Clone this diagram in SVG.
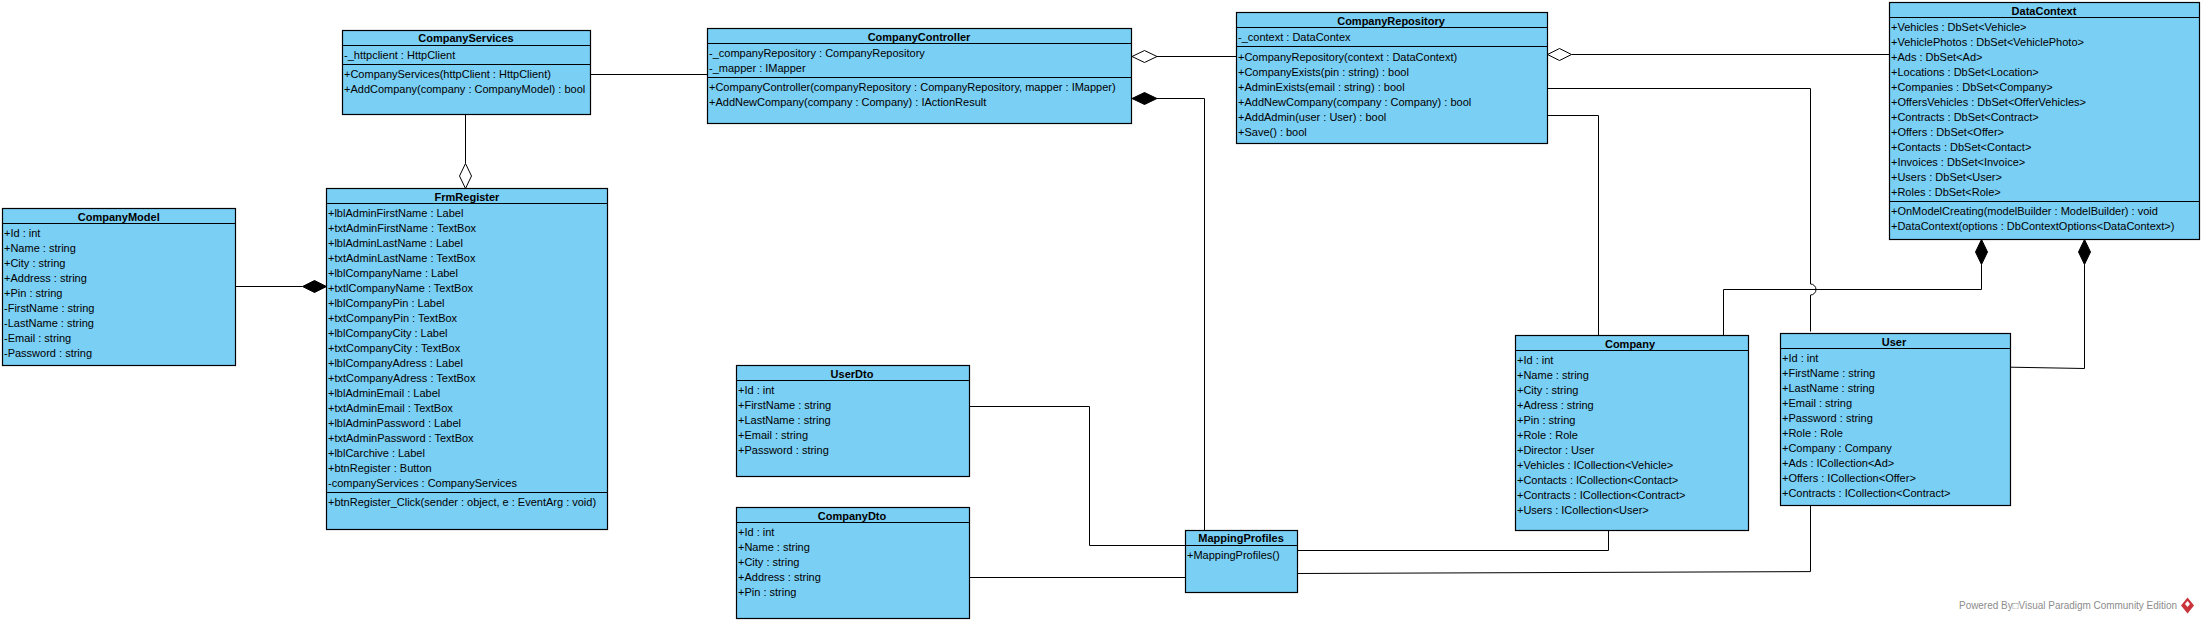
<svg xmlns="http://www.w3.org/2000/svg" width="2203" height="622" viewBox="0 0 2203 622">
<style>
.b{fill:#7ACFF5;stroke:#000;stroke-width:1.2}
.s{stroke:#000;stroke-width:1;fill:none}
.c{stroke:#000;stroke-width:1;fill:none}
text{font-family:"Liberation Sans",Arial,sans-serif;font-size:11px;fill:#000;dominant-baseline:central}
.t{font-weight:bold;text-anchor:middle}
.o{fill:#fff;stroke:#000;stroke-width:1}
.f{fill:#000;stroke:#000;stroke-width:1}
text.w{fill:#8c8c8c;font-size:10.2px}
</style>
<rect width="2203" height="622" fill="#fff"/>
<g id="connectors">
<path class="c" d="M590.5 74.5H707.5"/>
<path class="c" d="M465.5 114.5V163.5"/>
<path class="o" d="M465.5 163.5L471.5 176 465.5 188.5 459.5 176Z"/>
<path class="c" d="M235.5 286.5H302.5"/>
<path class="f" d="M302.5 286.5L314.5 280.5 326.5 286.5 314.5 292.5Z"/>
<path class="c" d="M1156.5 56.5H1236.5"/>
<path class="o" d="M1132 56.5L1144.5 50.5 1157 56.5 1144.5 62.5Z"/>
<path class="c" d="M1156.5 98.5H1204.5V530.5"/>
<path class="f" d="M1132 98.5L1144.5 92.5 1157 98.5 1144.5 104.5Z"/>
<path class="c" d="M1571.5 54.5H1889.5"/>
<path class="o" d="M1547.5 54.5L1559.5 48.5 1571.5 54.5 1559.5 60.5Z"/>
<path class="c" d="M1547.5 88.5H1810.5V284A5.5 5.5 0 0 1 1810.5 295V331.5"/>
<path class="c" d="M1547.5 115.5H1598.5V335.5"/>
<path class="c" d="M1723.5 335.5V289.5H1981.5V264.5"/>
<path class="f" d="M1981.5 239.5L1987.5 252 1981.5 264.5 1975.5 252Z"/>
<path class="c" d="M2084.5 264.5V368.5L2010.5 367.2"/>
<path class="f" d="M2084.5 239.5L2090.5 252 2084.5 264.5 2078.5 252Z"/>
<path class="c" d="M969.5 406.5H1089.5V545.5H1185.5"/>
<path class="c" d="M969.5 577.5H1185.5"/>
<path class="c" d="M1297.5 550.5H1608.5V530.5"/>
<path class="c" d="M1297.5 573.5L1810.5 571.6V505.5"/>
</g>
<g id="CompanyServices">
<rect class="b" x="342.5" y="30.5" width="248" height="84"/>
<path class="s" d="M342.5 45.5H590.5M342.5 64.5H590.5"/>
<text class="t" x="466" y="38">CompanyServices</text>
<text x="344" y="55.3">-_httpclient : HttpClient</text>
<text x="344" y="74.3">+CompanyServices(httpClient : HttpClient)</text>
<text x="344" y="89.3">+AddCompany(company : CompanyModel) : bool</text>
</g>
<g id="CompanyModel">
<rect class="b" x="2.5" y="208.5" width="233" height="157"/>
<path class="s" d="M2.5 223.5H235.5"/>
<text class="t" x="118.8" y="216.5">CompanyModel</text>
<text x="4" y="233.3">+Id : int</text>
<text x="4" y="248.3">+Name : string</text>
<text x="4" y="263.3">+City : string</text>
<text x="4" y="278.3">+Address : string</text>
<text x="4" y="293.3">+Pin : string</text>
<text x="4" y="308.3">-FirstName : string</text>
<text x="4" y="323.3">-LastName : string</text>
<text x="4" y="338.3">-Email : string</text>
<text x="4" y="353.3">-Password : string</text>
</g>
<g id="FrmRegister">
<rect class="b" x="326.5" y="188.5" width="281" height="341"/>
<path class="s" d="M326.5 203.5H607.5M326.5 492.5H607.5"/>
<text class="t" x="467" y="196.5">FrmRegister</text>
<text x="328" y="213.3">+lblAdminFirstName : Label</text>
<text x="328" y="228.3">+txtAdminFirstName : TextBox</text>
<text x="328" y="243.3">+lblAdminLastName : Label</text>
<text x="328" y="258.3">+txtAdminLastName : TextBox</text>
<text x="328" y="273.3">+lblCompanyName : Label</text>
<text x="328" y="288.3">+txtlCompanyName : TextBox</text>
<text x="328" y="303.3">+lblCompanyPin : Label</text>
<text x="328" y="318.3">+txtCompanyPin : TextBox</text>
<text x="328" y="333.3">+lblCompanyCity : Label</text>
<text x="328" y="348.3">+txtCompanyCity : TextBox</text>
<text x="328" y="363.3">+lblCompanyAdress : Label</text>
<text x="328" y="378.3">+txtCompanyAdress : TextBox</text>
<text x="328" y="393.3">+lblAdminEmail : Label</text>
<text x="328" y="408.3">+txtAdminEmail : TextBox</text>
<text x="328" y="423.3">+lblAdminPassword : Label</text>
<text x="328" y="438.3">+txtAdminPassword : TextBox</text>
<text x="328" y="453.3">+lblCarchive : Label</text>
<text x="328" y="468.3">+btnRegister : Button</text>
<text x="328" y="483.3">-companyServices : CompanyServices</text>
<text x="328" y="502.3">+btnRegister_Click(sender : object, e : EventArg : void)</text>
</g>
<g id="CompanyController">
<rect class="b" x="707.5" y="28.5" width="424" height="95"/>
<path class="s" d="M707.5 43.5H1131.5M707.5 77.5H1131.5"/>
<text class="t" x="919" y="36.5">CompanyController</text>
<text x="709" y="53.3">-_companyRepository : CompanyRepository</text>
<text x="709" y="68.3">-_mapper : IMapper</text>
<text x="709" y="87.3">+CompanyController(companyRepository : CompanyRepository, mapper : IMapper)</text>
<text x="709" y="102.3">+AddNewCompany(company : Company) : IActionResult</text>
</g>
<g id="CompanyRepository">
<rect class="b" x="1236.5" y="12.5" width="311" height="131"/>
<path class="s" d="M1236.5 27.5H1547.5M1236.5 46.5H1547.5"/>
<text class="t" x="1391" y="20.5">CompanyRepository</text>
<text x="1238" y="37.3">-_context : DataContex</text>
<text x="1238" y="56.5">+CompanyRepository(context : DataContext)</text>
<text x="1238" y="71.5">+CompanyExists(pin : string) : bool</text>
<text x="1238" y="86.5">+AdminExists(email : string) : bool</text>
<text x="1238" y="101.5">+AddNewCompany(company : Company) : bool</text>
<text x="1238" y="116.5">+AddAdmin(user : User) : bool</text>
<text x="1238" y="131.5">+Save() : bool</text>
</g>
<g id="DataContext">
<rect class="b" x="1889.5" y="2.5" width="310" height="237"/>
<path class="s" d="M1889.5 17.5H2199.5M1889.5 201.5H2199.5"/>
<text class="t" x="2044" y="10.5">DataContext</text>
<text x="1891" y="27.3">+Vehicles : DbSet&lt;Vehicle&gt;</text>
<text x="1891" y="42.3">+VehiclePhotos : DbSet&lt;VehiclePhoto&gt;</text>
<text x="1891" y="57.3">+Ads : DbSet&lt;Ad&gt;</text>
<text x="1891" y="72.3">+Locations : DbSet&lt;Location&gt;</text>
<text x="1891" y="87.3">+Companies : DbSet&lt;Company&gt;</text>
<text x="1891" y="102.3">+OffersVehicles : DbSet&lt;OfferVehicles&gt;</text>
<text x="1891" y="117.3">+Contracts : DbSet&lt;Contract&gt;</text>
<text x="1891" y="132.3">+Offers : DbSet&lt;Offer&gt;</text>
<text x="1891" y="147.3">+Contacts : DbSet&lt;Contact&gt;</text>
<text x="1891" y="162.3">+Invoices : DbSet&lt;Invoice&gt;</text>
<text x="1891" y="177.3">+Users : DbSet&lt;User&gt;</text>
<text x="1891" y="192.3">+Roles : DbSet&lt;Role&gt;</text>
<text x="1891" y="211.3">+OnModelCreating(modelBuilder : ModelBuilder) : void</text>
<text x="1891" y="226.3">+DataContext(options : DbContextOptions&lt;DataContext&gt;)</text>
</g>
<g id="UserDto">
<rect class="b" x="736.5" y="365.5" width="233" height="111"/>
<path class="s" d="M736.5 380.5H969.5"/>
<text class="t" x="852" y="373.5">UserDto</text>
<text x="738" y="390.3">+Id : int</text>
<text x="738" y="405.3">+FirstName : string</text>
<text x="738" y="420.3">+LastName : string</text>
<text x="738" y="435.3">+Email : string</text>
<text x="738" y="450.3">+Password : string</text>
</g>
<g id="CompanyDto">
<rect class="b" x="736.5" y="507.5" width="233" height="111"/>
<path class="s" d="M736.5 522.5H969.5"/>
<text class="t" x="852" y="515.5">CompanyDto</text>
<text x="738" y="532.3">+Id : int</text>
<text x="738" y="547.3">+Name : string</text>
<text x="738" y="562.3">+City : string</text>
<text x="738" y="577.3">+Address : string</text>
<text x="738" y="592.3">+Pin : string</text>
</g>
<g id="MappingProfiles">
<rect class="b" x="1185.5" y="530.5" width="112" height="62"/>
<path class="s" d="M1185.5 545.5H1297.5"/>
<text class="t" x="1241" y="538.3">MappingProfiles</text>
<text x="1187" y="555.3">+MappingProfiles()</text>
</g>
<g id="Company">
<rect class="b" x="1515.5" y="335.5" width="233" height="195"/>
<path class="s" d="M1515.5 350.5H1748.5"/>
<text class="t" x="1630" y="343.5">Company</text>
<text x="1517" y="360.3">+Id : int</text>
<text x="1517" y="375.3">+Name : string</text>
<text x="1517" y="390.3">+City : string</text>
<text x="1517" y="405.3">+Adress : string</text>
<text x="1517" y="420.3">+Pin : string</text>
<text x="1517" y="435.3">+Role : Role</text>
<text x="1517" y="450.3">+Director : User</text>
<text x="1517" y="465.3">+Vehicles : ICollection&lt;Vehicle&gt;</text>
<text x="1517" y="480.3">+Contacts : ICollection&lt;Contact&gt;</text>
<text x="1517" y="495.3">+Contracts : ICollection&lt;Contract&gt;</text>
<text x="1517" y="510.3">+Users : ICollection&lt;User&gt;</text>
</g>
<g id="User">
<rect class="b" x="1780.5" y="333.5" width="230" height="172"/>
<path class="s" d="M1780.5 348.5H2010.5"/>
<text class="t" x="1894" y="341.5">User</text>
<text x="1782" y="358.3">+Id : int</text>
<text x="1782" y="373.3">+FirstName : string</text>
<text x="1782" y="388.3">+LastName : string</text>
<text x="1782" y="403.3">+Email : string</text>
<text x="1782" y="418.3">+Password : string</text>
<text x="1782" y="433.3">+Role : Role</text>
<text x="1782" y="448.3">+Company : Company</text>
<text x="1782" y="463.3">+Ads : ICollection&lt;Ad&gt;</text>
<text x="1782" y="478.3">+Offers : ICollection&lt;Offer&gt;</text>
<text x="1782" y="493.3">+Contracts : ICollection&lt;Contract&gt;</text>
</g>
<text class="w" x="1959" y="605.7" textLength="218" lengthAdjust="spacingAndGlyphs">Powered By□Visual Paradigm Community Edition</text>
<path d="M2187.5 597.5L2194 605.5 2187.5 613.5 2181 605.5Z" fill="#c9343a"/>
<path d="M2187.5 601L2190 604 2187.5 607 2185 604Z" fill="#fff"/>
</svg>
